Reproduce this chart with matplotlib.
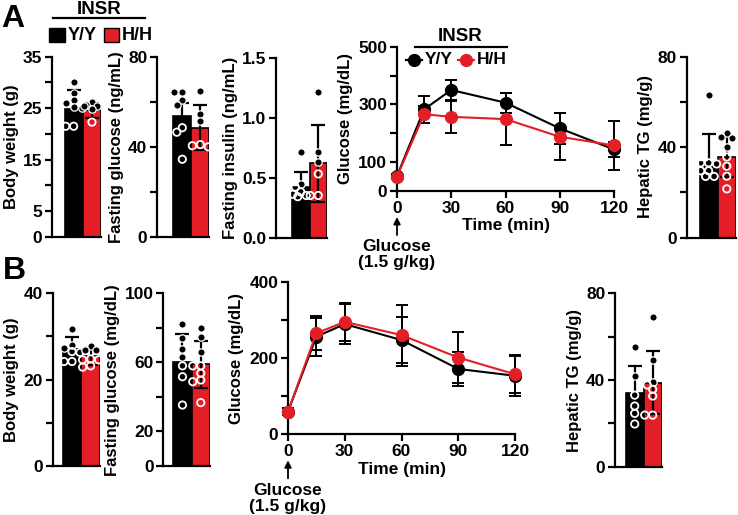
import numpy as np
import matplotlib
matplotlib.use('Agg')
import matplotlib.pyplot as plt
from matplotlib.patches import Rectangle
from matplotlib.lines import Line2D

plt.rcParams['font.family'] = ['Liberation Sans', 'DejaVu Sans']
plt.rcParams['font.weight'] = 'bold'
plt.rcParams['axes.labelweight'] = 'bold'

BLACK = '#000000'
RED = '#E41E26'
groups = ['Y/Y', 'H/H']

# ---------------- Panel A data ----------------
A_bw_mean = [24.8, 24.6]
A_bw_sd = [3.7, 1.5]
A_bw_yy = [30.0, 27.9, 26.6, 26.1, 25.2, 25.0, 21.5, 21.5]
A_bw_hh = [26.3, 25.6, 25.5, 25.5, 24.9, 22.3]
A_bw_ticks = [0, 5, 10, 15, 20, 25, 30, 35]
A_bw_labels = ['0', '5', '', '15', '', '25', '', '35']

A_fg_mean = [53.5, 48.5]
A_fg_sd = [6.0, 10.0]
A_fg_yy = [64.3, 64.3, 61.0, 58.5, 48.5, 46.5, 34.5]
A_fg_hh = [65.0, 54.5, 51.5, 41.0, 40.5, 40.0]
A_fg_ticks = [0, 20, 40, 60, 80]
A_fg_labels = ['0', '', '40', '', '80']

A_fi_mean = [0.42, 0.62]
A_fi_sd = [0.13, 0.32]
A_fi_yy = [0.71, 0.45, 0.42, 0.38, 0.36, 0.35, 0.34]
A_fi_hh = [1.21, 0.71, 0.63, 0.53, 0.35, 0.35]
A_fi_ticks = [0.0, 0.5, 1.0, 1.5]
A_fi_labels = ['0.0', '0.5', '1.0', '1.5']

A_time = [0, 15, 30, 60, 90, 120]
A_gtt_yy = [52, 283, 350, 306, 217, 144]
A_gtt_yy_sd = [8, 47, 33, 35, 54, 25]
A_gtt_hh = [50, 266, 257, 249, 188, 158]
A_gtt_hh_sd = [8, 30, 55, 91, 82, 85]
A_gtt_yticks = [0, 100, 200, 300, 400, 500]
A_gtt_ylabels = ['0', '100', '', '300', '', '500']

A_tg_mean = [33.2, 35.6]
A_tg_sd = [12.6, 8.9]
A_tg_yy = [63.2, 33.0, 33.0, 32.5, 29.5, 29.5, 27.0, 27.0]
A_tg_hh = [46.4, 44.3, 43.9, 40.2, 35.6, 31.5, 27.1, 21.5]
A_tg_ticks = [0, 20, 40, 60, 80]
A_tg_labels = ['0', '', '40', '', '80']

# ---------------- Panel B data ----------------
B_bw_mean = [27.1, 25.4]
B_bw_sd = [2.7, 1.9]
B_bw_yy = [31.7, 28.0, 27.4, 26.5, 26.3, 24.2, 24.2]
B_bw_hh = [27.7, 26.9, 26.8, 24.8, 24.6, 24.6, 23.2, 22.9]
B_bw_ticks = [0, 10, 20, 30, 40]
B_bw_labels = ['0', '', '20', '', '40']

B_fg_mean = [60.0, 58.8]
B_fg_sd = [16.5, 13.5]
B_fg_yy = [82.0, 74.0, 68.0, 63.3, 58.0, 51.7, 35.3]
B_fg_hh = [80.0, 74.5, 66.2, 58.0, 58.0, 53.7, 49.8, 48.8, 36.7]
B_fg_ticks = [0, 20, 40, 60, 80, 100]
B_fg_labels = ['0', '20', '', '60', '', '100']

B_time = [0, 15, 30, 60, 90, 120]
B_gtt_yy = [60, 257, 290, 248, 172, 154]
B_gtt_yy_sd = [10, 50, 52, 60, 45, 52]
B_gtt_hh = [60, 266, 296, 261, 202, 158]
B_gtt_hh_sd = [10, 45, 50, 80, 68, 50]
B_gtt_yticks = [0, 100, 200, 300, 400]
B_gtt_ylabels = ['0', '', '200', '', '400']

B_tg_mean = [33.8, 38.8]
B_tg_sd = [12.7, 14.7]
B_tg_yy = [55.4, 42.0, 33.0, 28.0, 24.6, 19.7]
B_tg_hh = [69.2, 49.2, 39.2, 37.7, 35.7, 32.6, 23.8, 23.8]
B_tg_ticks = [0, 20, 40, 60, 80]
B_tg_labels = ['0', '', '40', '', '80']

time_ticks = [0, 30, 60, 90, 120]

# ---------------- layout helpers ----------------
W, H = 738, 515
fig = plt.figure(figsize=(W / 100, H / 100), dpi=100)


def fx(x):
    return x / W


def fy(y):
    return 1 - y / H


def style(ax):
    for s in ['top', 'right']:
        ax.spines[s].set_visible(False)
    for s in ['left', 'bottom']:
        ax.spines[s].set_linewidth(1.6)
    ax.tick_params(direction='out', length=5, width=1.6, labelsize=12.5, pad=2)


def swarm(ax, xc, vals, d=6.3):
    xpix0 = ax.transData.transform((xc, 0))[0]
    ppx = ax.transData.transform((xc + 1, 0))[0] - xpix0
    cands = [0, -5.5, 5.5, -3, 3, -8, 8]
    placed = []
    xs = []
    for v in vals:
        ypx = ax.transData.transform((xc, v))[1]
        best, bestov = 0, 1e9
        for c in cands:
            ov = 0
            for (px, py) in placed:
                dist = np.hypot(px - c, py - ypx)
                if dist < d:
                    ov += d - dist
            if ov < bestov - 1e-9:
                best, bestov = c, ov
            if ov == 0:
                best = c
                break
        placed.append((best, ypx))
        xs.append(xc + best / ppx)
    return xs


def bar_panel(spine, bar_left, bw, ytop, ybot, means, sds, yy, hh, ticks, labels, ylabel):
    x1 = bar_left + 2 * bw
    ax = fig.add_axes([fx(spine), fy(ybot), (x1 - spine) / W, (ybot - ytop) / H])
    ax.set_xlim(-0.5 - (bar_left - spine) / bw, 1.5)
    ax.set_ylim(0, ticks[-1])
    style(ax)
    ax.bar([0, 1], means, width=1.0, color=[BLACK, RED], edgecolor='black',
           linewidth=1.2, zorder=2)
    ax.errorbar([0, 1], means, yerr=sds, fmt='none', ecolor='black',
                elinewidth=1.6, capsize=5, capthick=1.6, zorder=3)
    for i, pts in enumerate([yy, hh]):
        xs = swarm(ax, i, pts)
        for x, v in zip(xs, pts):
            if v > means[i]:
                ax.scatter([x], [v], s=28, facecolor='black', edgecolor='white',
                           linewidth=0.9, zorder=4, clip_on=False)
            else:
                ax.scatter([x], [v], s=28, facecolor='none', edgecolor='white',
                           linewidth=1.3, zorder=4, clip_on=False)
    ax.set_xticks([])
    ax.set_yticks(ticks)
    ax.set_yticklabels(labels)
    ax.set_ylabel(ylabel, fontsize=12, labelpad=3)
    return ax


def gtt_panel(x0, x1, ytop, ybot, t, yy, yysd, hh, hhsd, yticks, ylabels):
    ax = fig.add_axes([fx(x0), fy(ybot), (x1 - x0) / W, (ybot - ytop) / H])
    style(ax)
    ax.set_xlim(0, 120)
    ax.set_ylim(0, yticks[-1])
    for m, s, c in [(yy, yysd, BLACK), (hh, hhsd, RED)]:
        ax.errorbar(t, m, yerr=s, color=c, ecolor='black', elinewidth=1.4,
                    capsize=4, capthick=1.4, marker='o', ms=8.5, mfc=c, mec=c,
                    lw=1.5, clip_on=False, zorder=3)
    ax.set_xticks(time_ticks)
    ax.set_yticks(yticks)
    ax.set_yticklabels(ylabels)
    ax.set_ylabel('Glucose (mg/dL)', fontsize=12, labelpad=4)
    ax.set_xlabel('Time (min)', fontsize=12.5, labelpad=2)
    # glucose injection arrow
    ax.annotate('', xy=(0, 0), xycoords='data', xytext=(0, -44 * 0.72),
                textcoords='offset points',
                arrowprops=dict(arrowstyle='-|>', color='black', lw=1.3,
                                shrinkA=0, shrinkB=26 * 0.72, mutation_scale=10))
    ax.annotate('Glucose', xy=(0, 0), xycoords='data', xytext=(0, -56 * 0.72),
                textcoords='offset points', ha='center', va='center', fontsize=12.5)
    ax.annotate('(1.5 g/kg)', xy=(0, 0), xycoords='data', xytext=(0, -72 * 0.72),
                textcoords='offset points', ha='center', va='center', fontsize=12.5)
    return ax


# ---------------- Panel A ----------------
bar_panel(52, 64.5, 18.3, 56.7, 237, A_bw_mean, A_bw_sd, A_bw_yy, A_bw_hh,
          A_bw_ticks, A_bw_labels, 'Body weight (g)')
bar_panel(157, 173.3, 18.0, 56.7, 237, A_fg_mean, A_fg_sd, A_fg_yy, A_fg_hh,
          A_fg_ticks, A_fg_labels, 'Fasting glucose (ng/mL)')
bar_panel(276, 292, 17.5, 57.5, 237.5, A_fi_mean, A_fi_sd, A_fi_yy, A_fi_hh,
          A_fi_ticks, A_fi_labels, 'Fasting insulin (ng/mL)')
gtt_panel(397, 614, 46.7, 191, A_time, A_gtt_yy, A_gtt_yy_sd, A_gtt_hh, A_gtt_hh_sd,
          A_gtt_yticks, A_gtt_ylabels)
bar_panel(686.5, 699.5, 18.2, 56.5, 237.5, A_tg_mean, A_tg_sd, A_tg_yy, A_tg_hh,
          A_tg_ticks, A_tg_labels, 'Hepatic TG (mg/g)')

# ---------------- Panel B ----------------
bar_panel(52.7, 62.7, 18.6, 293.3, 466, B_bw_mean, B_bw_sd, B_bw_yy, B_bw_hh,
          B_bw_ticks, B_bw_labels, 'Body weight (g)')
bar_panel(163.3, 173.3, 18.3, 293.3, 466, B_fg_mean, B_fg_sd, B_fg_yy, B_fg_hh,
          B_fg_ticks, B_fg_labels, 'Fasting glucose (mg/dL)')
gtt_panel(288, 515, 282.3, 434.3, B_time, B_gtt_yy, B_gtt_yy_sd, B_gtt_hh, B_gtt_hh_sd,
          B_gtt_yticks, B_gtt_ylabels)
bar_panel(615, 625.7, 18.0, 293.3, 466.7, B_tg_mean, B_tg_sd, B_tg_yy, B_tg_hh,
          B_tg_ticks, B_tg_labels, 'Hepatic TG (mg/g)')

# ---------------- panel letters ----------------
fig.text(fx(13), fy(19), 'A', ha='center', va='center', fontsize=23)
fig.text(fx(14), fy(271), 'B', ha='center', va='center', fontsize=23)

# ---------------- legend: bars (top left) ----------------
fig.text(fx(99.5), fy(10), 'INSR', ha='center', va='center', fontsize=13.5)
fig.add_artist(Line2D([fx(53), fx(145)], [fy(18), fy(18)], color='black', lw=1.6,
                      transform=fig.transFigure))
fig.add_artist(Rectangle((fx(49), fy(42)), 16 / W, 14 / H, facecolor=BLACK,
                         edgecolor='black', lw=1, transform=fig.transFigure))
fig.text(fx(68), fy(35), groups[0], ha='left', va='center', fontsize=13)
fig.add_artist(Rectangle((fx(104), fy(42)), 15 / W, 14 / H, facecolor=RED,
                         edgecolor='black', lw=1, transform=fig.transFigure))
fig.text(fx(122), fy(35), groups[1], ha='left', va='center', fontsize=13)

# ---------------- legend: GTT ----------------
fig.text(fx(460), fy(36), 'INSR', ha='center', va='center', fontsize=13.5)
fig.add_artist(Line2D([fx(415), fx(507)], [fy(46.7), fy(46.7)], color='black', lw=1.6,
                      transform=fig.transFigure))
for xc, c, lab, tx in [(414, BLACK, groups[0], 425), (466, RED, groups[1], 477)]:
    fig.add_artist(Line2D([fx(xc - 8), fx(xc + 8)], [fy(60), fy(60)], color=c, lw=1.6,
                          transform=fig.transFigure))
    fig.add_artist(Line2D([fx(xc)], [fy(60)], color=c, marker='o', ms=8.5, lw=0,
                          transform=fig.transFigure))
    fig.text(fx(tx), fy(60), lab, ha='left', va='center', fontsize=12.5)

fig.savefig('out.png', dpi=100)
